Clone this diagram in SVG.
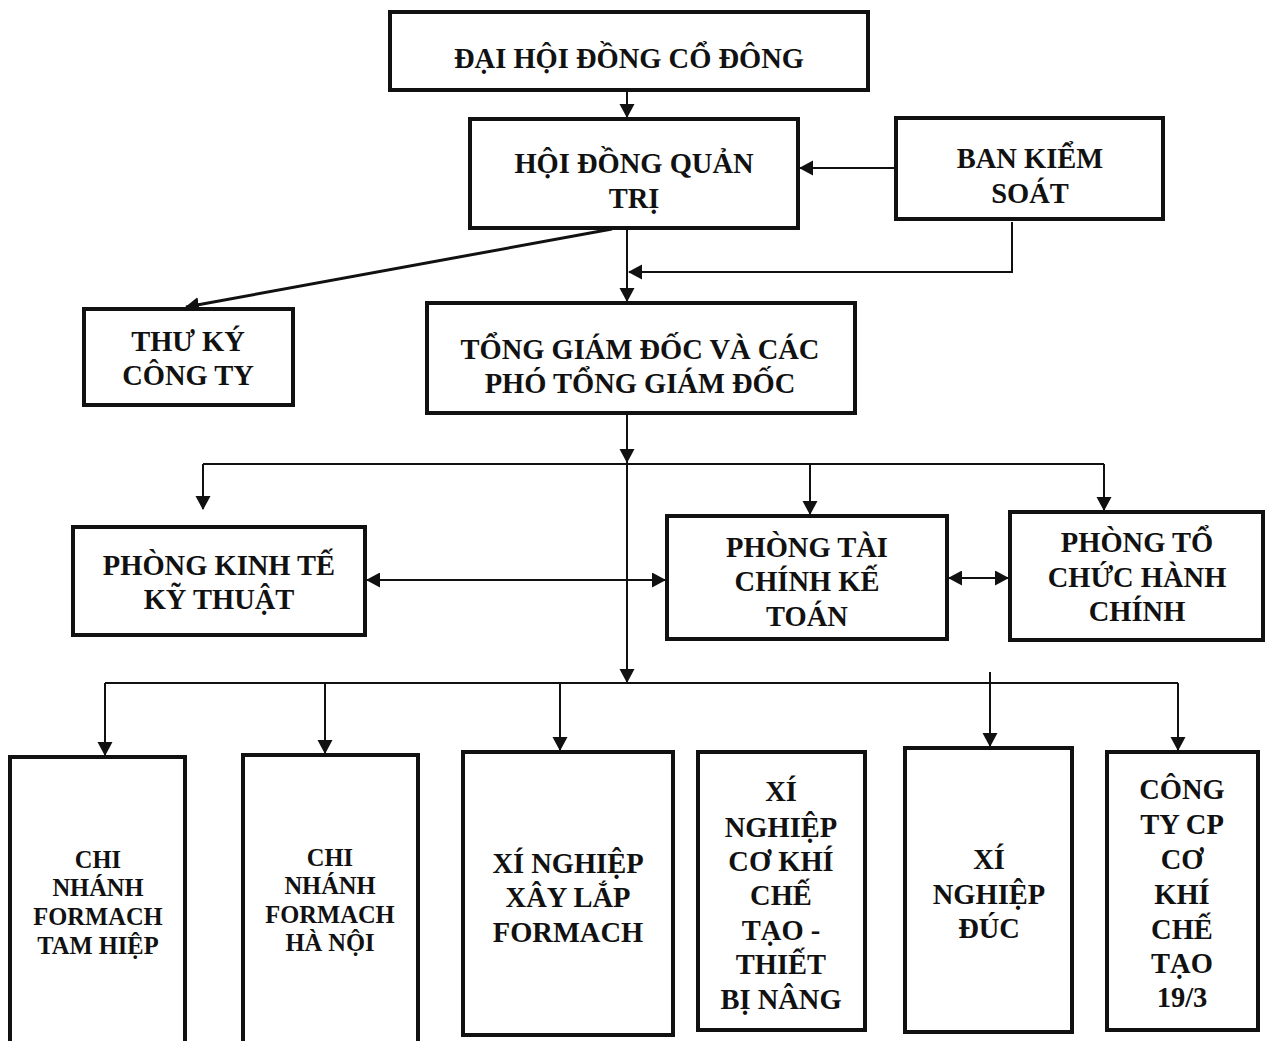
<svg xmlns="http://www.w3.org/2000/svg" width="1273" height="1041" viewBox="0 0 1273 1041">
<style>
.box{fill:#fff;stroke:#111;stroke-width:4}
.t{font-family:"Liberation Serif","Times New Roman",serif;font-weight:bold;font-size:28.5px;fill:#111;text-anchor:middle}
.s{font-size:24.5px}
.c{fill:none;stroke:#111;stroke-width:2}
.d{stroke-width:3}
</style>
<defs>
<marker id="ah" markerWidth="16" markerHeight="16" refX="13" refY="7.5" orient="auto" markerUnits="userSpaceOnUse">
<path d="M0,0 L14,7.5 L0,15 Z" fill="#111"/>
</marker>
<marker id="as" markerWidth="16" markerHeight="16" refX="1" refY="7.5" orient="auto" markerUnits="userSpaceOnUse">
<path d="M14,0 L0,7.5 L14,15 Z" fill="#111"/>
</marker>
</defs>
<rect width="1273" height="1041" fill="#fff"/>
<g id="connectors">
<path class="c" d="M627 90 V117" marker-end="url(#ah)"/>
<path class="c" d="M896 168 H800" marker-end="url(#ah)"/>
<path class="c d" d="M612 229 L186 307" marker-end="url(#ah)"/>
<path class="c" d="M627 229 V301" marker-end="url(#ah)"/>
<path class="c" d="M1012 222 V272 H629" marker-end="url(#ah)"/>
<path class="c" d="M627 414 V462" marker-end="url(#ah)"/>
<path class="c" d="M627 462 V682" marker-end="url(#ah)"/>
<path class="c" d="M203 464 H1104"/>
<path class="c" d="M203 464 V509" marker-end="url(#ah)"/>
<path class="c" d="M810 464 V514" marker-end="url(#ah)"/>
<path class="c" d="M1104 464 V510" marker-end="url(#ah)"/>
<path class="c" d="M367 580 H665" marker-start="url(#as)" marker-end="url(#ah)"/>
<path class="c" d="M949 578 H1008" marker-start="url(#as)" marker-end="url(#ah)"/>
<path class="c" d="M105 683 H1178"/>
<path class="c" d="M105 683 V755" marker-end="url(#ah)"/>
<path class="c" d="M325 683 V753" marker-end="url(#ah)"/>
<path class="c" d="M560 683 V750" marker-end="url(#ah)"/>
<path class="c" d="M990 672 V746" marker-end="url(#ah)"/>
<path class="c" d="M1178 683 V750" marker-end="url(#ah)"/>
</g>
<g id="n-dhdcd"><rect class="box" x="390" y="12" width="478" height="78"/><text class="t" x="629" y="68">ĐẠI HỘI ĐỒNG CỔ ĐÔNG</text></g>
<g id="n-hdqt"><rect class="box" x="470" y="119" width="328" height="109"/><text class="t" x="634" y="173">HỘI ĐỒNG QUẢN</text><text class="t" x="634" y="208">TRỊ</text></g>
<g id="n-bks"><rect class="box" x="896" y="118" width="267" height="101"/><text class="t" x="1030" y="168">BAN KIỂM</text><text class="t" x="1030" y="203">SOÁT</text></g>
<g id="n-thuky"><rect class="box" x="84" y="309" width="209" height="96"/><text class="t" x="188" y="351">THƯ KÝ</text><text class="t" x="188" y="385">CÔNG TY</text></g>
<g id="n-tgd"><rect class="box" x="427" y="303" width="428" height="110"/><text class="t" x="640" y="359">TỔNG GIÁM ĐỐC VÀ CÁC</text><text class="t" x="640" y="393">PHÓ TỔNG GIÁM ĐỐC</text></g>
<g id="n-pktkt"><rect class="box" x="73" y="527" width="292" height="108"/><text class="t" x="219" y="575">PHÒNG KINH TẾ</text><text class="t" x="219" y="609">KỸ THUẬT</text></g>
<g id="n-ptckt"><rect class="box" x="667" y="516" width="280" height="123"/><text class="t" x="807" y="557">PHÒNG TÀI</text><text class="t" x="807" y="591">CHÍNH KẾ</text><text class="t" x="807" y="626">TOÁN</text></g>
<g id="n-ptchc"><rect class="box" x="1010" y="512" width="253" height="128"/><text class="t" x="1137" y="552">PHÒNG TỔ</text><text class="t" x="1137" y="587">CHỨC HÀNH</text><text class="t" x="1137" y="621">CHÍNH</text></g>
<g id="n-cn-tamhiep"><rect class="box" x="10" y="757" width="175" height="300"/><text class="t s" x="98" y="868">CHI</text><text class="t s" x="98" y="896">NHÁNH</text><text class="t s" x="98" y="925">FORMACH</text><text class="t s" x="98" y="954">TAM HIỆP</text></g>
<g id="n-cn-hanoi"><rect class="box" x="243" y="755" width="175" height="300"/><text class="t s" x="330" y="866">CHI</text><text class="t s" x="330" y="894">NHÁNH</text><text class="t s" x="330" y="923">FORMACH</text><text class="t s" x="330" y="951">HÀ NỘI</text></g>
<g id="n-xn-xaylap"><rect class="box" x="463" y="752" width="210" height="283"/><text class="t" x="568" y="873">XÍ NGHIỆP</text><text class="t" x="568" y="907">XÂY LẮP</text><text class="t" x="568" y="942">FORMACH</text></g>
<g id="n-xn-cokhi"><rect class="box" x="698" y="752" width="167" height="278"/><text class="t" x="781" y="801">XÍ</text><text class="t" x="781" y="837">NGHIỆP</text><text class="t" x="781" y="871">CƠ KHÍ</text><text class="t" x="781" y="905">CHẾ</text><text class="t" x="781" y="940">TẠO -</text><text class="t" x="781" y="974">THIẾT</text><text class="t" x="781" y="1009">BỊ NÂNG</text></g>
<g id="n-xn-duc"><rect class="box" x="905" y="748" width="167" height="284"/><text class="t" x="989" y="869">XÍ</text><text class="t" x="989" y="904">NGHIỆP</text><text class="t" x="989" y="938">ĐÚC</text></g>
<g id="n-ct-193"><rect class="box" x="1107" y="752" width="151" height="278"/><text class="t" x="1182" y="799">CÔNG</text><text class="t" x="1182" y="834">TY CP</text><text class="t" x="1182" y="869">CƠ</text><text class="t" x="1182" y="904">KHÍ</text><text class="t" x="1182" y="939">CHẾ</text><text class="t" x="1182" y="973">TẠO</text><text class="t" x="1182" y="1007">19/3</text></g>
</svg>
